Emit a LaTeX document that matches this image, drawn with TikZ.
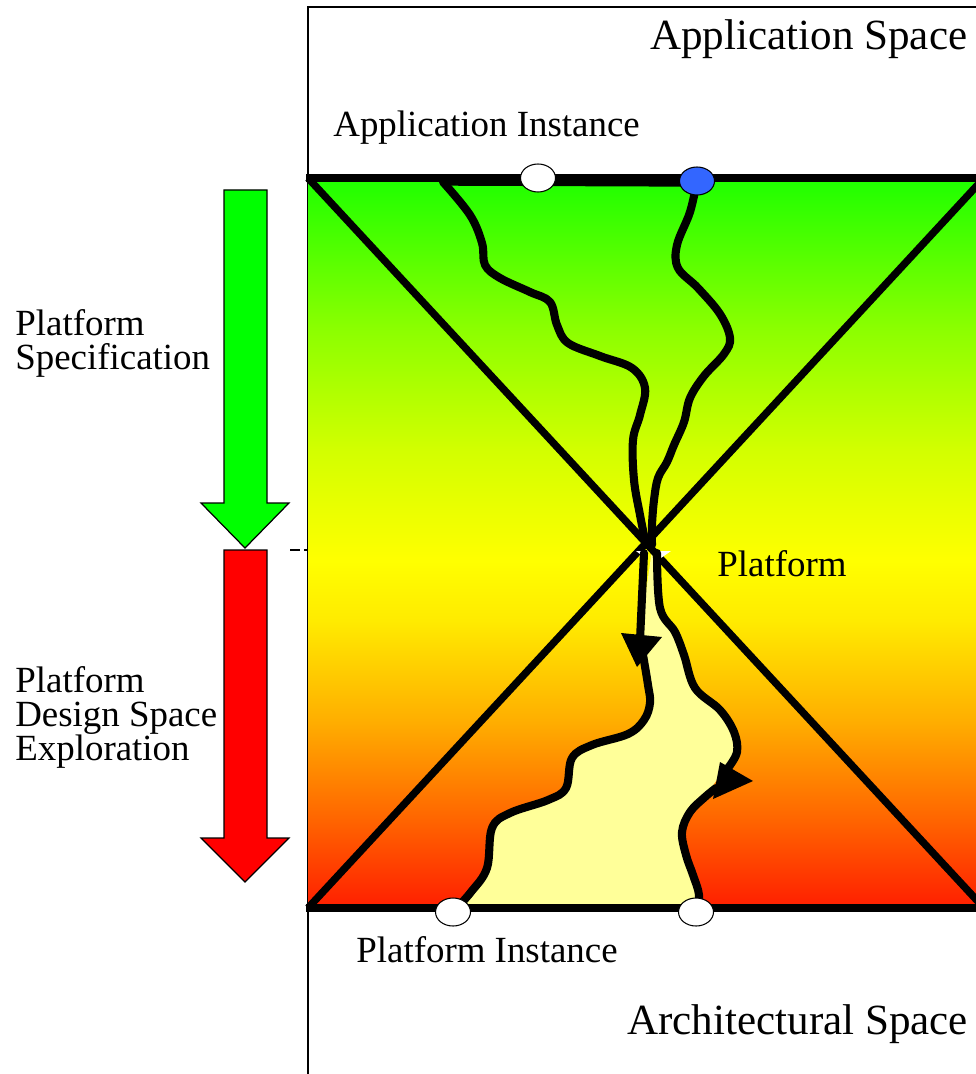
\documentclass[tikz,border=0pt]{standalone}
\usepackage{fontspec}
\setmainfont{Liberation Serif}
\usetikzlibrary{shapes.geometric, arrows.meta}

\definecolor{dotblue}{RGB}{51,102,255}
\definecolor{paleyellow}{RGB}{255,255,153}
\definecolor{hgA}{RGB}{255,30,0}
\definecolor{hgB}{RGB}{255,100,0}
\definecolor{hgC}{RGB}{255,175,0}
\definecolor{hgD}{RGB}{255,235,0}
\definecolor{hgE}{RGB}{255,255,0}
\definecolor{hgF}{RGB}{210,255,0}
\definecolor{hgG}{RGB}{140,255,0}
\definecolor{hgH}{RGB}{30,255,0}
\pgfdeclareverticalshading{hourglass}{100bp}{color(0bp)=(hgA); color(25bp)=(hgA); color(31bp)=(hgB); color(37.9bp)=(hgC); color(44.7bp)=(hgD); color(48.8bp)=(hgE); color(56.4bp)=(hgF); color(64.6bp)=(hgG); color(75bp)=(hgH); color(100bp)=(hgH)}

\tikzset{
  thickline/.style={line width=4.2pt},
  wavy/.style={line width=4.6pt, line join=round, line cap=round},
  dot/.style={ellipse, draw, line width=0.6pt, fill=white, minimum width=7mm, minimum height=5.6mm, inner sep=0pt},
  txt/.style={font=\fontsize{21}{19.3}\selectfont, inner sep=0pt, align=left},
  bigtxt/.style={font=\fontsize{24.5}{28}\selectfont, inner sep=0pt},
  flowarrow/.style={draw, line width=0.7pt, line join=miter}
}

\begin{document}
\begin{tikzpicture}[x=0.2mm, y=-0.2mm]
    \useasboundingbox (0,0) rectangle (976,1074);
    \clip (0,0) rectangle (976,1074);

    % end points of the refinement paths
    \coordinate (lstart) at (443,182);
    \coordinate (appdot) at (538,178);
    \coordinate (appsel) at (697,181);
    \coordinate (platl) at (453,912);
    \coordinate (platr) at (696,912);
    \coordinate (apex) at (646,543);

    % frame of the two spaces
    \draw[line width=0.8pt] (976,7) -- (308,7) -- (308,1074);

    % hourglass
    \shade[shading=hourglass] (308,178) rectangle (984,908);

    % reachable platform instances
    \fill[paleyellow] plot[smooth, tension=0.6] coordinates {(652,550) (660,608) (675,632) (684,655) (695,688) (720,710) (734,732) (737,752) (728,768)}
        -- (716,781)
        -- plot[smooth, tension=0.6] coordinates {(705,797) (690,812) (682,832) (686,855) (693,875) (699,895) (697,908)}
        -- (453,908)
        -- plot[smooth, tension=0.6] coordinates {(471,892) (487,868) (492,828) (510,813) (548,800) (566,788) (572,758) (592,745) (628,734) (644,720) (650,703) (648,685) (643,655)}
        -- (640,633) -- cycle;

    % the X
    \draw[thickline] (308,178) -- (984,908);
    \draw[thickline] (984,178) -- (308,908);
    \draw[thickline] (306,178) -- (976,178);
    \draw[thickline] (306,908) -- (976,908);
    \draw[thickline] (lstart) -- (697,183);
    \fill[white] (636,551) -- (648,551) -- (645,558) -- cycle;
    \fill[white] (658,551) -- (671,551) -- (661,558) -- cycle;

    % paths from the application space
    \draw[wavy] plot[smooth, tension=0.6] coordinates {(lstart) (470,215) (482,243) (485,265) (500,278) (530,292) (550,302) (557,325) (568,343) (600,356) (632,368) (645,388) (640,415) (633,440) (634,480) (640,515) (646,545)};
    \draw[wavy] plot[smooth, tension=0.6] coordinates {(appsel) (690,212) (677,245) (678,268) (698,288) (720,314) (730,338) (724,354) (704,376) (690,398) (684,422) (674,445) (667,462) (658,478) (654,500) (652,525) (652,545)};
    \draw[wavy] (644,553) -- (640,640);
    \draw[wavy] plot[smooth, tension=0.6] coordinates {(657,553) (660,608) (675,632) (684,655) (695,688) (720,710) (734,732) (737,752) (728,768)};

    % paths from the platform instances
    \draw[wavy] plot[smooth, tension=0.6] coordinates {(643,655) (648,685) (650,703) (644,720) (628,734) (592,745) (572,758) (566,788) (548,800) (510,813) (492,828) (487,868) (471,892) (platl)};
    \draw[wavy] plot[smooth, tension=0.6] coordinates {(platr) (699,895) (693,875) (686,855) (682,832) (690,812) (705,797) (716,788)};

    % arrow heads
    \fill (621,633) -- (662,637) -- (637,667) -- cycle;
    \fill (720,762) -- (713,799) -- (753,781) -- cycle;

    % instances
    \node[dot] (appdotnode) at (appdot) {};
    \node[dot, fill=dotblue] (appselnode) at (appsel) {};
    \node[dot] (platlnode) at (platl) {};
    \node[dot] (platrnode) at (platr) {};

    % flow arrows
    \draw[flowarrow, fill=green] (224,190) -- (267,190) -- (267,503) -- (289,503) -- (245,548) -- (201,503) -- (224,503) -- cycle;
    \draw[flowarrow, fill=red] (224,550) -- (267,550) -- (267,838) -- (289,838) -- (245,882) -- (201,838) -- (224,838) -- cycle;
    \coordinate (split) at (290,550);
    \draw[line width=0.7pt, dash pattern=on 5.5pt off 2.5pt] (split) -- (308,550);

    % labels
    \node[bigtxt, anchor=base west] (appspace) at (650,50) {Application Space};
    \node[txt, anchor=base west] (appinst) at (333,137) {Application Instance};
    \node[txt, anchor=base west] (platform) at (717,576) {Platform};
    \node[txt, anchor=north west] (spec) at (15,309) {Platform\\Specification};
    \node[txt, anchor=north west] (dse) at (15,666) {Platform\\Design Space\\Exploration};
    \node[txt, anchor=base west] (platinst) at (356,962) {Platform Instance};
    \node[bigtxt, anchor=base west] (archspace) at (627,1034) {Architectural Space};
\end{tikzpicture}
\end{document}
